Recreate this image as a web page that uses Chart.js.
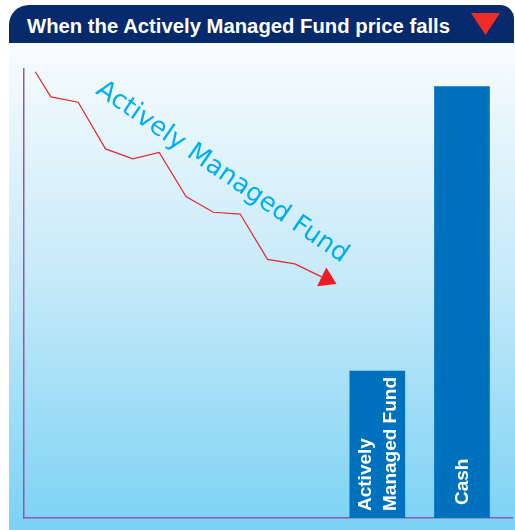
<!DOCTYPE html>
<html>
<head>
<meta charset="utf-8">
<script src="https://cdn.jsdelivr.net/npm/chart.js@4.4.1/dist/chart.umd.min.js"></script>
<style>
  body { margin: 0; background: #fff; width: 515px; height: 530px; overflow: hidden; position: relative; font-family: "Liberation Sans", Arial, sans-serif; }
  #header { position: absolute; left: 9px; top: 5px; width: 505px; height: 38px; background: #062a6b; border-radius: 20px 14px 0 0; }
  #header h1 { position: absolute; left: 18px; top: 11.3px; margin: 0; font-size: 20.3px; line-height: 20px; font-weight: bold; color: #fff; white-space: nowrap; }
  #down { position: absolute; left: 462px; top: 8px; width: 29px; height: 22px; background: #ee2d24; clip-path: polygon(0 0, 100% 0, 50% 100%); }
  #panel { position: absolute; left: 9px; top: 43px; width: 506px; height: 487px; background: linear-gradient(#f8fcfe 0%, #c4e9f8 50%, #7bd2f5 100%); }
  #chart { position: absolute; left: 0; top: 0; }
</style>
</head>
<body>
<div id="header"><h1>When the Actively Managed Fund price falls</h1><div id="down"></div></div>
<div id="panel"></div>
<canvas id="chart" width="515" height="530"></canvas>
<script>
// price path of the fund (x = share of the period, y = price level)
const lineX = [2.3, 5.5, 11.1, 16.7, 22.3, 27.7, 33.2, 38.8, 44.3, 49.9, 55.5, 61.0];
const lineY = [99.4, 93.8, 92.6, 82.2, 80.0, 81.4, 71.6, 68.1, 67.7, 57.6, 56.6, 53.7];
const lineLabel = "Actively Managed Fund";

// end-of-period value bars
const categories = [["Actively", "Managed Fund"], ["Cash"]];
const barX = [72.4, 89.75];
const barValues = [32.7, 96.1];

const axisColor = "#9557a8";

// arrow head at the end of the line, text inside bars, slanted series name
const extras = {
  id: "extras",
  afterDatasetsDraw(chart) {
    const ctx = chart.ctx;
    const { x: xs, y: ys } = chart.scales;

    // arrow head
    const pts = chart.getDatasetMeta(1).data;
    const p = pts[pts.length - 1], q = pts[pts.length - 2];
    const a = Math.atan2(p.y - q.y, p.x - q.x);
    ctx.save();
    ctx.translate(p.x, p.y);
    ctx.rotate(a);
    ctx.beginPath();
    ctx.moveTo(16.5, 0);
    ctx.lineTo(0, -10.5);
    ctx.lineTo(0, 10.5);
    ctx.closePath();
    ctx.fillStyle = "#ed1c24";
    ctx.fill();
    ctx.restore();

    // labels inside the bars
    const pads = [7, 13];
    chart.getDatasetMeta(0).data.forEach((bar, i) => {
      const lines = categories[i];
      ctx.save();
      ctx.translate(bar.x, bar.base - pads[i]);
      ctx.rotate(-Math.PI / 2);
      ctx.fillStyle = "#fff";
      ctx.font = "bold 19px 'Liberation Sans', Arial, sans-serif";
      ctx.textAlign = "left";
      ctx.textBaseline = "middle";
      lines.forEach((t, k) => {
        ctx.fillText(t, 0, (k - (lines.length - 1) / 2) * 24.5 + 1);
      });
      ctx.restore();
    });

    // slanted series name
    ctx.save();
    ctx.translate(xs.getPixelForValue(14.5), ys.getPixelForValue(94.7));
    ctx.rotate(34.6 * Math.PI / 180);
    ctx.fillStyle = "#00aeef";
    ctx.font = "25.8px 'DejaVu Sans', sans-serif";
    ctx.textAlign = "left";
    ctx.textBaseline = "alphabetic";
    ctx.fillText(lineLabel, 0, 0);
    ctx.restore();
  }
};

new Chart(document.getElementById("chart"), {
  type: "bar",
  data: {
    datasets: [{
      type: "bar",
      data: barX.map((x, i) => ({ x: x, y: barValues[i] })),
      backgroundColor: "#0071bc",
      barThickness: 55,
      order: 2
    }, {
      type: "line",
      data: lineX.map((x, i) => ({ x: x, y: lineY[i] })),
      borderColor: "#e8262a",
      borderWidth: 1.2,
      pointRadius: 0,
      tension: 0,
      fill: false,
      order: 1
    }]
  },
  options: {
    responsive: false,
    animation: false,
    layout: { padding: { left: 24, top: 69, right: 3, bottom: 12 } },
    plugins: { legend: { display: false }, tooltip: { enabled: false } },
    scales: {
      x: {
        type: "linear", min: 0, max: 100, offset: false,
        ticks: { display: false },
        grid: { display: false, drawTicks: false },
        border: { display: true, color: axisColor, width: 1.5 }
      },
      y: {
        type: "linear", min: 0, max: 100,
        ticks: { display: false },
        grid: { display: false, drawTicks: false },
        border: { display: true, color: axisColor, width: 1.5 }
      }
    }
  },
  plugins: [extras]
});
</script>
</body>
</html>
